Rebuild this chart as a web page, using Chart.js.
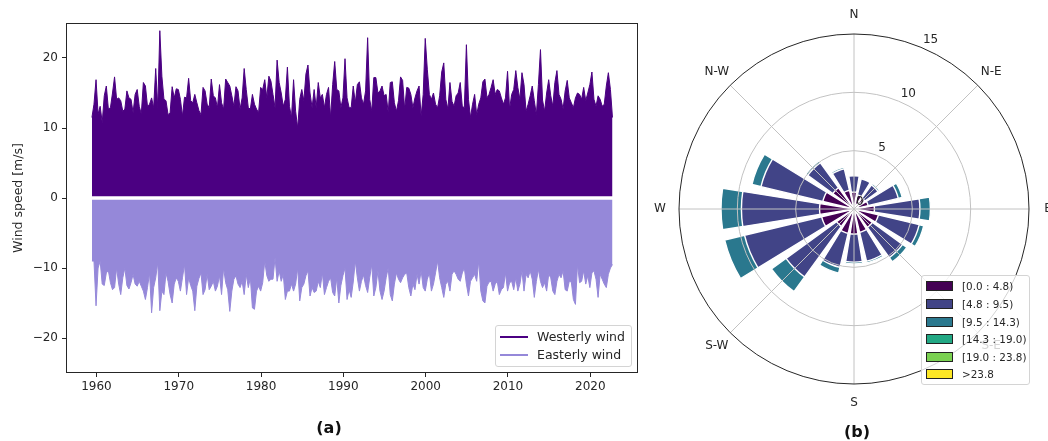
<!DOCTYPE html>
<html><head><meta charset="utf-8">
<script src="https://cdn.jsdelivr.net/npm/chart.js"></script>
<style>
html,body{margin:0;padding:0;background:#fff;width:1048px;height:441px;overflow:hidden;position:relative;font-family:'DejaVu Sans',sans-serif;color:#262626}
#ts{position:absolute;left:0;top:0}
#rose{position:absolute;left:640px;top:0}
.cap{position:absolute;font:bold 16px 'DejaVu Sans',sans-serif;color:#111;transform:translate(-50%,-50%);white-space:nowrap}
.leg{position:absolute;background:rgba(255,255,255,0.8);border:1px solid #d4d4d4;border-radius:3px;box-sizing:border-box}
.lrow{position:absolute;white-space:nowrap;line-height:1;transform:translateY(-50%)}
.lline{position:absolute;height:2px;transform:translateY(-50%)}
.lpatch{position:absolute;box-sizing:border-box;border:1px solid #222;transform:translateY(-50%)}
</style>
</head><body>
<canvas id="ts" width="660" height="441"></canvas>
<canvas id="rose" width="408" height="441"></canvas>
<div class="cap" style="left:329px;top:427px">(a)</div>
<div class="cap" style="left:857px;top:431px">(b)</div>
<div id="legA" class="leg" style="left:495px;top:325px;width:137px;height:42px"></div>
<div id="legB" class="leg" style="left:921px;top:275px;width:109px;height:110px"></div>
<script>
// ---------- (a) time series ----------
const seriesNames = ['Westerly wind', 'Easterly wind'];
const yTitle = 'Wind speed [m/s]';
const t0 = 1959.45;      // first sample (year)
const dt = 0.25;         // sampling step (year)
const xTicks = [1960, 1970, 1980, 1990, 2000, 2010, 2020];
const yTicks = [-20, -10, 0, 10, 20];

// upper envelope of westerly wind speed (m/s)
const westerly = [
11.5,13.4,16.9,12.0,13.1,10.8,14.6,16.0,12.7,12.9,
15.0,17.3,14.1,14.3,13.9,12.4,12.7,15.3,14.3,14.1,
12.2,14.8,15.5,13.1,12.0,16.5,16.0,13.1,13.4,14.3,
12.9,18.5,12.9,23.9,17.4,14.1,13.9,11.9,12.2,15.9,
14.3,15.6,15.5,14.1,11.7,14.4,14.3,17.1,13.9,13.6,
14.8,13.6,12.5,11.9,15.8,15.3,13.4,12.9,17.0,14.6,
14.3,12.9,16.2,13.6,12.7,17.0,16.5,16.0,14.6,13.1,
15.9,15.3,12.7,14.3,18.5,15.5,12.9,12.7,14.8,13.4,
12.7,12.2,15.8,15.5,16.9,14.3,17.4,16.7,14.8,12.9,
19.7,16.5,15.0,13.1,14.1,18.7,13.1,11.5,16.9,12.4,
10.0,14.1,15.5,13.9,17.7,19.0,15.0,12.9,15.5,12.9,
16.5,14.3,14.8,12.9,14.8,15.8,11.5,16.2,19.5,15.5,
15.3,12.9,14.3,19.9,14.3,12.9,12.9,
16.0,13.6,16.2,
16.6,14.3,13.4,15.3,22.9,14.1,12.4,17.2,17.2,15.0,
15.3,16.0,14.6,14.8,12.2,16.5,16.6,13.6,12.4,13.9,
17.3,16.8,12.7,15.8,15.7,14.8,12.9,14.3,15.3,16.0,
11.7,14.8,22.8,18.4,14.8,14.1,15.0,13.4,12.9,14.6,
18.0,19.3,14.1,12.7,16.5,13.8,13.1,14.6,15.0,16.5,
13.1,12.9,21.9,14.1,11.5,13.4,14.8,11.9,13.4,14.3,
16.6,17.0,14.3,14.8,15.8,16.9,14.8,15.5,15.3,14.3,
13.4,14.3,18.1,12.7,14.8,15.5,18.2,15.8,14.1,17.9,
16.2,12.4,13.4,14.6,16.0,13.9,11.9,16.2,21.2,14.0,
12.4,15.0,16.9,14.6,13.1,16.5,18.2,14.8,14.1,12.7,
15.3,16.8,14.3,13.6,12.9,14.3,15.0,14.8,14.1,15.8,
13.9,15.0,16.2,18.0,14.1,13.1,14.6,14.1,13.1,13.4,
16.0,17.9,15.5,11.5];

// lower envelope of easterly wind speed (m/s)
const easterly = [
-9.0,-9.0,-15.4,-10.0,-9.0,-12.3,-12.5,-10.7,-10.4,-12.1,
-13.1,-12.8,-10.0,-12.3,-13.8,-11.4,-10.0,-12.5,-13.0,-12.1,
-10.9,-12.3,-12.6,-11.9,-12.6,-13.3,-14.5,-12.8,-10.7,-16.4,
-12.8,-11.4,-9.2,-16.1,-13.3,-13.8,-10.7,-11.9,-13.8,-15.0,
-12.3,-11.4,-11.9,-13.3,-11.4,-9.5,-13.8,-11.4,-12.5,-13.3,
-16.1,-12.6,-11.5,-10.7,-13.8,-13.1,-10.9,-13.1,-12.6,-11.9,
-13.3,-12.6,-11.1,-13.8,-10.0,-12.1,-13.1,-16.2,-13.3,-11.6,
-11.1,-12.3,-12.8,-11.9,-13.8,-10.9,-12.8,-11.4,-15.7,-15.9,
-13.3,-12.6,-13.3,-12.1,-9.0,-11.1,-11.9,-11.6,-11.6,-8.5,
-11.9,-10.4,-11.9,-10.9,-14.5,-13.3,-13.3,-12.3,-13.3,-12.3,
-10.0,-14.7,-12.8,-12.3,-11.1,-10.4,-14.0,-12.8,-13.5,-13.3,
-11.9,-12.8,-10.7,-13.8,-12.8,-11.9,-11.4,-13.5,-14.0,-11.4,
-15.0,-12.5,-11.1,-10.0,-14.5,-13.1,-14.2,
-12.0,-9.0,-11.4,
-13.3,-11.9,-11.0,-12.5,-13.5,-11.4,-9.5,-14.0,-12.8,-10.4,
-13.3,-14.5,-13.3,-11.4,-10.0,-13.8,-14.7,-12.3,-10.7,-11.6,
-12.1,-11.4,-10.9,-10.7,-12.8,-14.0,-12.3,-13.1,-10.9,-12.3,
-10.4,-12.8,-13.3,-11.6,-10.7,-13.3,-12.3,-10.7,-9.0,-11.4,
-12.8,-14.2,-12.3,-11.9,-13.3,-10.9,-10.4,-10.9,-11.6,-11.9,
-10.7,-10.0,-12.3,-14.0,-11.9,-11.4,-10.9,-11.9,-9.0,-13.3,
-14.7,-15.0,-12.6,-12.0,-11.9,-13.3,-12.3,-11.9,-13.8,-13.1,
-12.8,-10.7,-13.3,-12.1,-11.9,-13.1,-11.4,-13.3,-12.3,-10.4,
-13.3,-10.9,-11.4,-10.4,-11.6,-14.2,-11.9,-10.2,-11.9,-12.8,
-12.1,-13.3,-10.9,-11.4,-13.3,-13.8,-11.9,-10.9,-11.4,-10.4,
-13.1,-13.3,-11.9,-12.0,-14.5,-15.2,-9.5,-12.1,-11.9,-10.4,
-12.3,-11.1,-12.8,-10.7,-10.4,-11.6,-14.2,-10.9,-11.6,-12.3,
-12.8,-10.9,-10.0,-9.5];

// ---------- (b) wind rose ----------
const directions = ['N','NNE','NE','ENE','E','ESE','SE','SSE','S','SSW','SW','WSW','W','WNW','NW','NNW'];
const compassLabels = ['N','N-E','E','S-E','S','S-W','W','N-W'];
const binLabels = ['[0.0 : 4.8)','[4.8 : 9.5)','[9.5 : 14.3)','[14.3 : 19.0)','[19.0 : 23.8)','>23.8'];
const bin0 = [1.45,1.25,1.15,1.25,1.75,2.15,1.95,2.05,2.15,2.15,1.85,2.85,2.95,2.75,2.25,1.65];
const bin1 = [1.4,1.4,1.4,2.65,3.9,3.6,3.2,2.55,2.4,3.0,5.35,6.8,6.7,5.45,2.65,1.9];
const bin2 = [0,0.05,0.15,0.35,0.9,0.4,0.45,0.15,0.15,0.5,1.55,1.75,1.75,0.8,0.2,0.15];
const bin3 = [0,0,0,0,0,0,0,0,0,0,0,0,0,0,0,0];
const bin4 = [0,0,0,0,0,0,0,0,0,0,0,0,0,0,0,0];
const bin5 = [0,0,0,0,0,0,0,0,0,0,0,0,0,0,0,0];
const rTicks = [0, 5, 10, 15];
const rMax = 15;

const C_W = '#4b0082', C_E = '#9588d9';
const binColors = ['#440154','#414487','#2a788e','#22a884','#7ad151','#fde725'];
const TXT = '#262626';
const FONT = "'DejaVu Sans', sans-serif";

const fmt = v => v < 0 ? '\u2212' + Math.abs(v) : String(v);

const framePlugin = {
  id: 'frame',
  afterDatasetsDraw(chart) {
    const {ctx, chartArea: a} = chart;
    ctx.save();
    ctx.strokeStyle = TXT; ctx.lineWidth = 1;
    ctx.strokeRect(Math.round(a.left) + 0.5, Math.round(a.top) + 0.5, Math.round(a.right - a.left) - 1, Math.round(a.bottom - a.top) - 1);
    ctx.restore();
  }
};

new Chart(document.getElementById('ts'), {
  type: 'line',
  data: {
    datasets: [
      { label: seriesNames[0], data: westerly.map((v, i) => ({x: t0 + i * dt, y: v})),
        borderColor: C_W, backgroundColor: C_W, borderWidth: 1, pointRadius: 0, tension: 0, fill: {value: 0.25} },
      { label: seriesNames[1], data: easterly.map((v, i) => ({x: t0 + i * dt, y: v})),
        borderColor: C_E, backgroundColor: C_E, borderWidth: 1, pointRadius: 0, tension: 0, fill: {value: -0.25} }
    ]
  },
  options: {
    responsive: false, animation: false, devicePixelRatio: 1,
    layout: {padding: {top: 23, right: 22, left: 0, bottom: 0}},
    plugins: {legend: {display: false}, tooltip: {enabled: false}},
    scales: {
      x: {
        type: 'linear', min: 1956.3, max: 2025.8,
        afterBuildTicks: s => { s.ticks = xTicks.map(v => ({value: v})); },
        afterFit: s => { s.height = 68; },
        grid: {drawOnChartArea: false, drawTicks: true, tickLength: 4, color: TXT},
        border: {display: false},
        ticks: {color: TXT, font: {family: FONT, size: 12}, padding: 3, maxRotation: 0, autoSkip: false, callback: v => fmt(v)}
      },
      y: {
        min: -25, max: 25,
        afterBuildTicks: s => { s.ticks = yTicks.map(v => ({value: v})); },
        afterFit: s => { s.width = 66; },
        grid: {drawOnChartArea: false, drawTicks: true, tickLength: 4, color: TXT},
        border: {display: false},
        ticks: {color: TXT, font: {family: FONT, size: 12}, padding: 4, autoSkip: false, callback: v => fmt(v)},
        title: {display: true, text: yTitle, color: TXT, font: {family: FONT, size: 12.5}, padding: {top: 11, bottom: 0}}
      }
    }
  },
  plugins: [framePlugin]
});

// legend (a)
(function(){
  const el = document.getElementById('legA');
  const cols = [C_W, C_E];
  const ys = [10.7, 29.3];
  seriesNames.forEach((n, k) => {
    const l = document.createElement('div'); l.className = 'lline';
    l.style.cssText = `left:4px;top:${ys[k]}px;width:28px;background:${cols[k]}`;
    el.appendChild(l);
    const t = document.createElement('div'); t.className = 'lrow';
    t.style.cssText = `left:41px;top:${ys[k]}px;font-size:12.5px`;
    t.textContent = n; el.appendChild(t);
  });
})();

// wind rose
const bins = [bin0, bin1, bin2, bin3, bin4, bin5];
let acc = directions.map(() => 0);
const cumul = bins.map(b => { acc = acc.map((a, j) => a + b[j]); return acc.slice(); });
const roseSets = [];
bins.forEach((b, k) => {
  if (!b.some(v => v > 0)) return;
  roseSets.push({
    label: binLabels[k],
    data: cumul[k].flatMap(v => [v, 0]),
    backgroundColor: binColors[k],
    borderColor: '#ffffff', borderWidth: 1.4,
    angle: c => (c.index % 2 === 0 ? 18 : 4.5)
  });
});

const roseDecor = {
  id: 'roseDecor',
  afterDatasetsDraw(chart) {
    const s = chart.scales.r, ctx = chart.ctx;
    const cx = s.xCenter, cy = s.yCenter;
    const R = s.getDistanceFromCenterForValue(rMax);
    ctx.save();
    ctx.strokeStyle = '#c2c2c2'; ctx.lineWidth = 1;
    rTicks.forEach(v => {
      if (v <= 0 || v >= rMax) return;
      ctx.beginPath(); ctx.arc(cx, cy, s.getDistanceFromCenterForValue(v), 0, Math.PI * 2); ctx.stroke();
    });
    compassLabels.forEach((lab, k) => {
      const a = k * Math.PI / 4;
      ctx.beginPath(); ctx.moveTo(cx, cy);
      ctx.lineTo(cx + R * Math.sin(a), cy - R * Math.cos(a)); ctx.stroke();
    });
    ctx.strokeStyle = TXT;
    ctx.beginPath(); ctx.arc(cx, cy, R, 0, Math.PI * 2); ctx.stroke();
    ctx.fillStyle = TXT;
    ctx.font = `12px ${FONT}`;
    ctx.textAlign = 'center'; ctx.textBaseline = 'middle';
    compassLabels.forEach((lab, k) => {
      const a = k * Math.PI / 4, d = R + 19;
      ctx.fillText(lab, cx + d * Math.sin(a), cy - d * Math.cos(a));
    });
    ctx.textAlign = 'left'; ctx.textBaseline = 'alphabetic';
    const la = Math.PI / 8;
    rTicks.forEach(v => {
      const d = s.getDistanceFromCenterForValue(v);
      ctx.fillText(String(v), cx + d * Math.sin(la) + 2, cy - d * Math.cos(la) - 4);
    });
    ctx.restore();
  }
};

new Chart(document.getElementById('rose'), {
  type: 'polarArea',
  data: { labels: directions.flatMap(d => [d, '']), datasets: roseSets },
  options: {
    responsive: false, animation: false, devicePixelRatio: 1,
    layout: {padding: {left: 39, right: 19, top: 34, bottom: 57}},
    plugins: {legend: {display: false}, tooltip: {enabled: false}},
    scales: {
      r: {
        min: 0, max: rMax, startAngle: -9,
        ticks: {display: false},
        grid: {display: false},
        angleLines: {display: false},
        pointLabels: {display: false}
      }
    }
  },
  plugins: [roseDecor]
});

// legend (b)
(function(){
  const el = document.getElementById('legB');
  binLabels.forEach((n, k) => {
    const y = 10.3 + 17.6 * k;
    const p = document.createElement('div'); p.className = 'lpatch';
    p.style.cssText = `left:4px;top:${y}px;width:27px;height:10px;background:${binColors[k]}`;
    el.appendChild(p);
    const t = document.createElement('div'); t.className = 'lrow';
    t.style.cssText = `left:40px;top:${y}px;font-size:10.4px`;
    t.textContent = n; el.appendChild(t);
  });
})();
</script>
</body></html>
